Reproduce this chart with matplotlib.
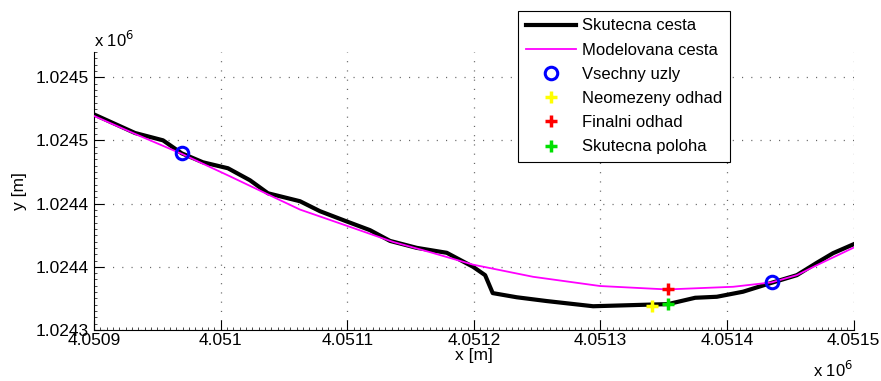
import numpy as np
import matplotlib.pyplot as plt
from matplotlib.ticker import MultipleLocator

plt.rcParams['font.family'] = ['Liberation Sans', 'DejaVu Sans']

# skutecna trajektorie (x, y v metrech)
cesta_x = [4050900.0, 4050932.4, 4050954.5, 4050969.3, 4050986.1, 4051005.8,
           4051023.2, 4051037.4, 4051062.7, 4051078.5, 4051099.1, 4051118.0,
           4051133.8, 4051154.9, 4051178.6, 4051199.4, 4051208.9, 4051214.9,
           4051233.9, 4051257.6, 4051294.2, 4051339.2, 4051353.4, 4051374.8,
           4051391.9, 4051412.6, 4051435.3, 4051455.1, 4051470.9, 4051483.7,
           4051500.0]
cesta_y = [1024470.6, 1024455.9, 1024450.1, 1024439.8, 1024432.7, 1024428.0,
           1024418.5, 1024408.2, 1024401.9, 1024394.0, 1024386.1, 1024379.0,
           1024370.5, 1024365.0, 1024361.1, 1024350.0, 1024343.4, 1024329.2,
           1024325.9, 1024322.9, 1024318.8, 1024320.1, 1024320.5, 1024325.5,
           1024326.3, 1024330.3, 1024337.4, 1024343.4, 1024353.2, 1024360.8,
           1024367.9]

# modelovana trajektorie
model_x = [4050900.0, 4050932.4, 4050969.3, 4051007.4, 4051044.3, 4051062.7,
           4051102.2, 4051136.2, 4051165.4, 4051199.4, 4051246.8, 4051299.7,
           4051352.6, 4051404.8, 4051435.3, 4051455.1, 4051470.9, 4051500.0]
model_y = [1024469.4, 1024455.2, 1024439.4, 1024421.6, 1024404.0, 1024395.3,
           1024381.6, 1024369.7, 1024361.6, 1024351.7, 1024342.1, 1024334.8,
           1024332.1, 1024334.2, 1024337.7, 1024343.4, 1024351.3, 1024365.2]

# uzly a odhady polohy
uzly_x = [4050969.3, 4051435.3]
uzly_y = [1024439.8, 1024337.6]
neomezeny = (4051340.8, 1024319.0)
finalni = (4051353.4, 1024332.4)
skutecna = (4051353.4, 1024320.5)

xticks = [4050900, 4051000, 4051100, 4051200, 4051300, 4051400, 4051500]
xlabels = ['4.0509', '4.051', '4.0511', '4.0512', '4.0513', '4.0514', '4.0515']
yticks = [1024300, 1024350, 1024400, 1024450, 1024500]
ylabels = ['1.0243', '1.0244', '1.0244', '1.0245', '1.0245']

fig = plt.figure(figsize=(8.81, 3.81), dpi=100)
ax = fig.add_axes([94 / 881, 51 / 381, 759.7 / 881, 278 / 381])

ax.plot(cesta_x, cesta_y, color='black', lw=3, label='Skutecna cesta', zorder=3)
ax.plot(model_x, model_y, color='magenta', lw=1.3, label='Modelovana cesta', zorder=4)
ax.plot(uzly_x, uzly_y, 'o', ms=9, mfc='none', mec='blue', mew=2.2,
        label='Vsechny uzly', zorder=5)
ax.plot(*neomezeny, '+', ms=9, mew=2.5, color='yellow', label='Neomezeny odhad', zorder=6)
ax.plot(*finalni, '+', ms=9, mew=2.5, color='red', label='Finalni odhad', zorder=6)
ax.plot(*skutecna, '+', ms=9, mew=2.5, color='#00e000', label='Skutecna poloha', zorder=6)

ax.set_xlim(4050900, 4051500)
ax.set_ylim(1024300, 1024520)
ax.set_xticks(xticks)
ax.set_xticklabels(xlabels)
ax.set_yticks(yticks)
ax.set_yticklabels(ylabels)
ax.xaxis.set_minor_locator(MultipleLocator(5))
ax.yaxis.set_minor_locator(MultipleLocator(5))
ax.tick_params(which='major', direction='in', length=7, width=0.8, labelsize=12.5)
ax.tick_params(axis='x', which='major', pad=2)
ax.tick_params(axis='y', which='major', pad=4)
ax.tick_params(which='minor', direction='in', length=2.5, width=0.5)
ax.spines['top'].set_visible(False)
ax.spines['right'].set_visible(False)
ax.grid(True, which='major', color='0.4', linestyle=(0, (0.9, 6.5)), lw=0.9)

ax.set_xlabel('x [m]', fontsize=12.5, labelpad=0)
ax.set_ylabel('y [m]', fontsize=12.5, labelpad=6)
fig.text(94 / 881, 1 - 40 / 381, r'x 10$^{6}$', fontsize=12, va='center')
fig.text(813 / 881, 1 - 370 / 381, r'x 10$^{6}$', fontsize=12, va='center')

leg = ax.legend(loc='upper left', bbox_to_anchor=(518 / 881, 1 - 11 / 381),
                bbox_transform=fig.transFigure, fontsize=12, fancybox=False,
                framealpha=1, edgecolor='black', borderpad=0.45,
                borderaxespad=0, labelspacing=0.55, handlelength=3.0,
                handletextpad=0.4, numpoints=1)
leg.get_frame().set_linewidth(0.8)

fig.savefig('out.png', dpi=100)
